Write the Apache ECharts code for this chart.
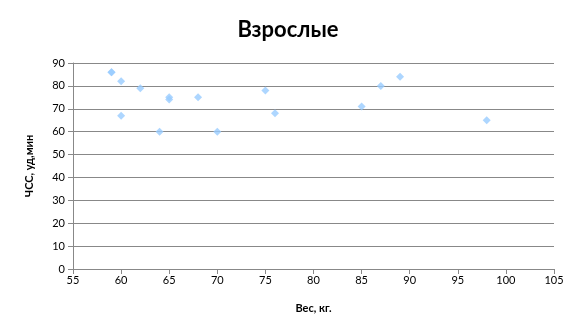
<!DOCTYPE html>
<html><head><meta charset="utf-8">
<script src="https://cdn.jsdelivr.net/npm/echarts@6/dist/echarts.min.js"></script>
<style>html,body{margin:0;padding:0;background:#fff}#c{width:576px;height:336px}</style>
</head><body><div id="c"></div>
<script>
const weights = [59, 59, 60, 60, 62, 64, 65, 65, 68, 70, 75, 76, 85, 87, 89, 98];
const heartRates = [86, 86, 82, 67, 79, 60, 74, 75, 75, 60, 78, 68, 71, 80, 84, 65];
const titleText = 'Взрослые';
const xName = 'Вес, кг.';
const yName = 'ЧСС, уд,мин';

const chart = echarts.init(document.getElementById('c'));
const font = 'Lato, "Open Sans", sans-serif';
chart.setOption({
  animation: false,
  title: { text: titleText, left: 'center', top: 14, textStyle: { fontFamily: font, fontSize: 22, fontWeight: 'bold', color: '#000' } },
  grid: { left: 73, right: 22, top: 63, bottom: 67 },
  xAxis: {
    type: 'value', min: 55, max: 105, interval: 5,
    name: xName, nameLocation: 'middle', nameGap: 34,
    nameTextStyle: { fontFamily: font, fontSize: 11, fontWeight: 'bold', color: '#000' },
    axisLine: { lineStyle: { color: '#888' } },
    axisTick: { show: true, inside: false, length: 5, lineStyle: { color: '#888' } },
    axisLabel: { fontFamily: font, fontSize: 11, color: '#000', margin: 6 },
    splitLine: { show: false }
  },
  yAxis: {
    type: 'value', min: 0, max: 90, interval: 10,
    name: yName, nameLocation: 'middle', nameGap: 38,
    nameTextStyle: { fontFamily: font, fontSize: 11, fontWeight: 'bold', color: '#000' },
    axisLine: { show: true, lineStyle: { color: '#888' } },
    axisTick: { show: true, inside: false, length: 5, lineStyle: { color: '#888' } },
    axisLabel: { fontFamily: font, fontSize: 11, color: '#000', margin: 8 },
    splitLine: { show: true, lineStyle: { color: '#888', width: 1 } }
  },
  series: [{
    type: 'scatter',
    symbol: 'diamond', symbolSize: 8,
    itemStyle: { color: '#99ccff' },
    data: weights.map((w, i) => [w, heartRates[i]])
  }]
});
</script></body></html>
